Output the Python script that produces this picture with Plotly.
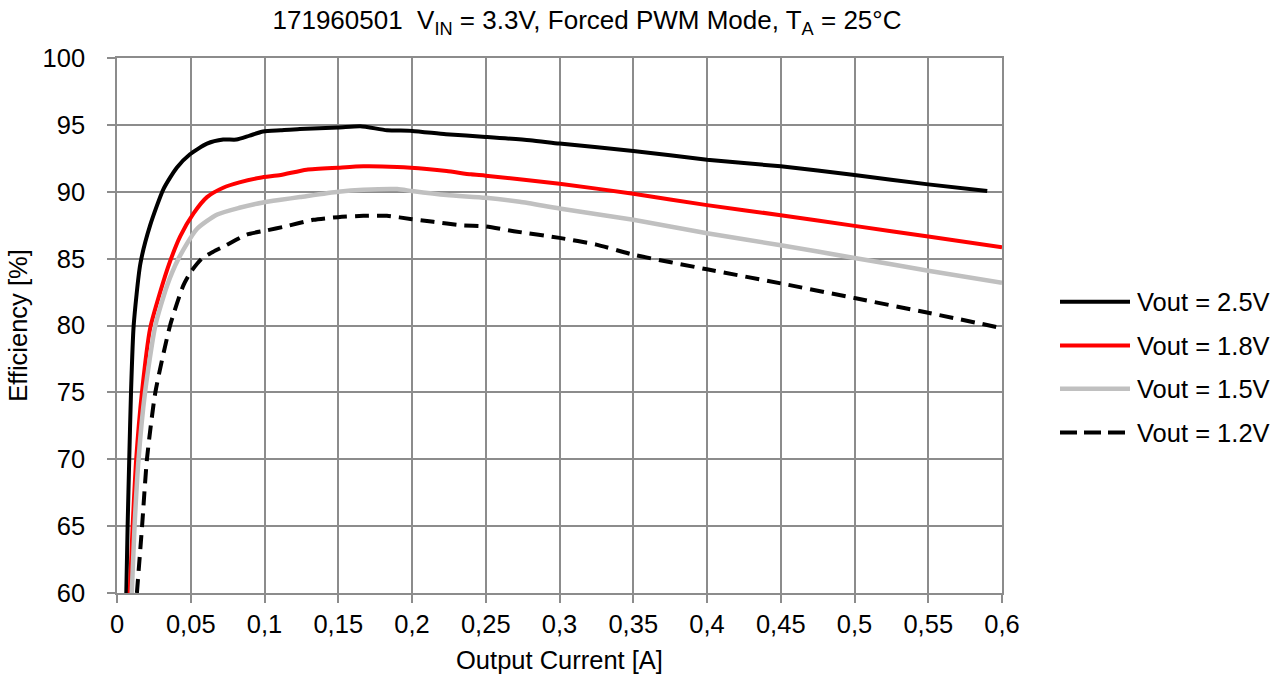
import plotly.graph_objects as go

# ---- data ----
x_25 = [0.0063, 0.0072, 0.0083, 0.0095, 0.0113, 0.0158, 0.0225, 0.0315, 0.0405, 0.0495, 0.061, 0.072,
        0.081, 0.09, 0.099, 0.111, 0.124, 0.15, 0.165, 0.183, 0.2, 0.223, 0.25, 0.28, 0.3, 0.35,
        0.4, 0.45, 0.5, 0.55, 0.59]
y_25 = [60, 65, 70, 75, 80.0, 84.6, 87.5, 90.2, 91.8, 92.8, 93.6, 93.9,
        93.9, 94.2, 94.5, 94.6, 94.7, 94.8, 94.9, 94.6, 94.55, 94.3, 94.1, 93.85, 93.6, 93.05,
        92.4, 91.9, 91.25, 90.55, 90.05]

x_18 = [0.0086, 0.0106, 0.013, 0.0169, 0.0225, 0.029, 0.036, 0.043, 0.052, 0.061, 0.072, 0.083,
        0.097, 0.111, 0.1285, 0.15, 0.167, 0.19, 0.21, 0.2235, 0.24, 0.25, 0.3, 0.35, 0.4, 0.45,
        0.5, 0.55, 0.6]
y_18 = [60, 65, 70, 75, 79.8, 82.4, 84.8, 86.7, 88.4, 89.6, 90.3, 90.7,
        91.05, 91.25, 91.65, 91.8, 91.9, 91.85, 91.7, 91.55, 91.3, 91.2, 90.6, 89.85, 89.0, 88.25,
        87.45, 86.65, 85.85]

x_15 = [0.0100, 0.0119, 0.0146, 0.019, 0.026, 0.034, 0.0417, 0.054, 0.068, 0.083, 0.099, 0.111,
        0.124, 0.15, 0.167, 0.19, 0.2, 0.2235, 0.25, 0.273, 0.3, 0.35, 0.4, 0.45, 0.5, 0.55, 0.6]
y_15 = [60, 65, 70, 75, 80, 83.0, 85.0, 87.2, 88.3, 88.8, 89.2, 89.4,
        89.6, 90.0, 90.15, 90.2, 90.05, 89.75, 89.55, 89.25, 88.75, 87.9, 86.9, 86.0, 85.05, 84.1, 83.2]

x_12 = [0.0135, 0.017, 0.0203, 0.026, 0.036, 0.045, 0.05, 0.0575, 0.065, 0.074, 0.088, 0.101,
        0.114, 0.133, 0.15, 0.167, 0.183, 0.2, 0.2145, 0.2325, 0.25, 0.269, 0.3, 0.325, 0.35,
        0.4, 0.45, 0.5, 0.55, 0.6]
y_12 = [60, 65, 70, 75, 80, 83.0, 84.0, 85.0, 85.5, 86.0, 86.8, 87.1,
        87.4, 87.9, 88.1, 88.2, 88.2, 87.95, 87.75, 87.5, 87.4, 87.05, 86.55, 86.05, 85.3,
        84.2, 83.15, 82.05, 80.95, 79.8]

series_names = ["Vout = 2.5V", "Vout = 1.8V", "Vout = 1.5V", "Vout = 1.2V"]
x_tickvals = [0, 0.05, 0.1, 0.15, 0.2, 0.25, 0.3, 0.35, 0.4, 0.45, 0.5, 0.55, 0.6]
x_ticktext = ["0", "0,05", "0,1", "0,15", "0,2", "0,25", "0,3", "0,35", "0,4", "0,45", "0,5", "0,55", "0,6"]
y_tickvals = [60, 65, 70, 75, 80, 85, 90, 95, 100]

# ---- styles ----
styles = [
    dict(color="#000000", width=4, dash="solid"),
    dict(color="#ff0000", width=4, dash="solid"),
    dict(color="#c0c0c0", width=4.5, dash="solid"),
    dict(color="#000000", width=4, dash="14px,8px"),
]
FONT = "Liberation Sans, Arial, sans-serif"
FS = 25.5
GRID = "#8c8c8c"

fig = go.Figure()
for xs, ys, name, st in zip([x_25, x_18, x_15, x_12], [y_25, y_18, y_15, y_12], series_names, styles):
    fig.add_trace(go.Scatter(x=xs, y=ys, mode="lines", name=name, showlegend=False,
                             line=dict(color=st["color"], width=st["width"], dash=st["dash"],
                                       shape="spline", smoothing=0.6)))

# custom legend (long line samples like the reference)
L, R, T, B = 117, 283, 58, 87
W, H = 1285, 682
pw, ph = W - L - R, H - T - B
leg_y_px = [302.7, 346.7, 390, 434]
for name, st, ypx in zip(series_names, styles, leg_y_px):
    yp = (H - B - ypx) / ph
    x0 = (1060 - L) / pw
    x1 = (1130 - L) / pw
    fig.add_shape(type="line", xref="paper", yref="paper", x0=x0, x1=x1, y0=yp, y1=yp,
                  line=dict(color=st["color"], width=st["width"],
                            dash="17px,7px" if st["dash"] != "solid" else "solid"))
    fig.add_annotation(xref="paper", yref="paper", x=(1135 - L) / pw, y=yp, text=name,
                       showarrow=False, xanchor="left", yanchor="middle",
                       font=dict(family=FONT, size=FS, color="#000"))

fig.update_layout(
    width=W, height=H,
    margin=dict(l=L, r=R, t=T, b=B, pad=0),
    paper_bgcolor="white", plot_bgcolor="white",
    font=dict(family=FONT, size=FS, color="#000"),
    title=dict(text="171960501  V<sub>IN</sub> = 3.3V, Forced PWM Mode, T<sub>A</sub> = 25°C",
               xref="paper", x=(587 - L) / pw, xanchor="center",
               yref="container", y=1 - 20 / H, yanchor="middle",
               font=dict(family=FONT, size=26, color="#000")),
    xaxis=dict(range=[0, 0.6], tickvals=x_tickvals, ticktext=x_ticktext,
               showgrid=True, gridcolor=GRID, gridwidth=1.5,
               showline=True, linecolor=GRID, linewidth=1.5, mirror=True,
               ticks="outside", ticklen=8, tickcolor=GRID, tickwidth=1.5,
               tickfont=dict(family=FONT, size=FS, color="#000"), zeroline=False,
               title=dict(text="Output Current [A]", font=dict(family=FONT, size=FS, color="#000"),
                          standoff=14)),
    yaxis=dict(range=[60, 100], tickvals=y_tickvals,
               showgrid=True, gridcolor=GRID, gridwidth=1.5,
               showline=True, linecolor=GRID, linewidth=1.5, mirror=True,
               ticks="outside", ticklen=8, tickcolor=GRID, tickwidth=1.5,
               ticklabelstandoff=17,
               tickfont=dict(family=FONT, size=FS, color="#000"), zeroline=False,
               title=dict(text="Efficiency [%]", font=dict(family=FONT, size=FS, color="#000"),
                          standoff=8)),
)

fig.write_html("out.html")
